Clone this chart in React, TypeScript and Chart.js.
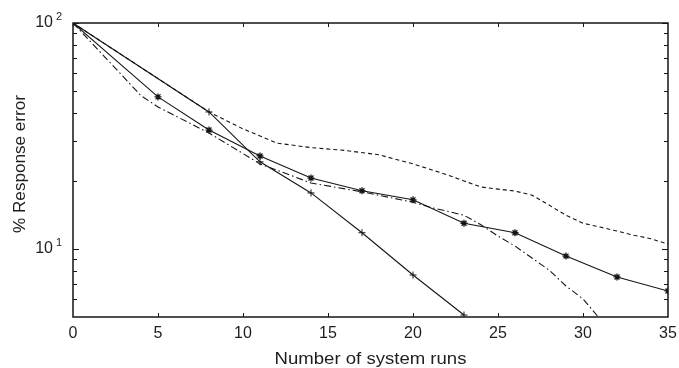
import React, { useEffect, useRef } from "react";
import { Chart, registerables } from "chart.js";

Chart.register(...registerables);

// x positions and values (% response error) for each curve
const slowX = [0, 5, 8, 11, 14, 17, 20, 23, 26, 29, 32, 35];
const slowY = [100, 47.1, 33.6, 25.8, 20.6, 18.1, 16.5, 13.0, 11.8, 9.3, 7.52, 6.52];

const fastX = [0, 8, 11, 14, 17, 20, 23];
const fastY = [100, 40.4, 24.3, 17.7, 11.8, 7.67, 5.1];

const dashX = [0, 8, 10, 12, 14, 16, 18, 20, 22, 23, 24, 25, 26, 27, 28, 29, 30, 31, 32, 33, 34, 35];
const dashY = [100, 40.4, 34.0, 29.4, 28.1, 27.3, 26.1, 23.8, 21.3, 20.0, 18.8, 18.4, 18.05, 17.3, 15.65, 14.1, 13.0, 12.5, 12.0, 11.5, 11.1, 10.5];

const dashDotX = [0, 4, 5, 8, 11, 14, 17, 20, 21, 22, 23, 24, 25, 26, 27, 28, 29, 30, 31];
const dashDotY = [100, 47.7, 42.5, 32.6, 23.8, 19.6, 17.9, 16.1, 15.3, 14.7, 14.1, 12.8, 11.4, 10.3, 9.12, 8.07, 6.86, 6.01, 4.9];

const xTickValues = [0, 5, 10, 15, 20, 25, 30, 35];
const yMajorTicks = [10, 100];
const yMinorTicks = [6, 7, 8, 9, 20, 30, 40, 50, 60, 70, 80, 90];
const yLabelBase = "10";
const yLabelExps = ["1", "2"];

const xTitle = "Number of system runs";
const yTitle = "% Response error";

const FONT = '"Liberation Sans", Arial, Helvetica, sans-serif';
const INK = "#151515";

function pts(xs: number[], ys: number[]) {
  return xs.map((x, i) => ({ x, y: ys[i] }));
}

const framePlugin = {
  id: "matlabFrame",
  afterDraw(chart: any) {
    const ctx = chart.ctx as CanvasRenderingContext2D;
    const { left, right, top, bottom } = chart.chartArea;
    const xs = chart.scales.x;
    const ys = chart.scales.y;
    ctx.save();
    ctx.strokeStyle = INK;
    ctx.lineWidth = 1.5;
    ctx.strokeRect(left, top, right - left, bottom - top);

    ctx.lineWidth = 1;
    ctx.beginPath();
    xTickValues.forEach((v) => {
      if (v === 0 || v === 35) return;
      const px = Math.round(xs.getPixelForValue(v)) + 0.5;
      ctx.moveTo(px, bottom);
      ctx.lineTo(px, bottom - 4);
      ctx.moveTo(px, top);
      ctx.lineTo(px, top + 4);
    });
    yMinorTicks.forEach((v) => {
      const py = Math.round(ys.getPixelForValue(v)) + 0.5;
      ctx.moveTo(left, py);
      ctx.lineTo(left + 4, py);
      ctx.moveTo(right, py);
      ctx.lineTo(right - 4, py);
    });
    yMajorTicks.forEach((v) => {
      const py = Math.round(ys.getPixelForValue(v)) + 0.5;
      ctx.moveTo(left, py);
      ctx.lineTo(left + 6, py);
      ctx.moveTo(right, py);
      ctx.lineTo(right - 6, py);
    });
    ctx.stroke();

    ctx.fillStyle = "#1e1e1e";
    // x tick labels
    ctx.font = `16px ${FONT}`;
    ctx.textAlign = "center";
    ctx.textBaseline = "alphabetic";
    xTickValues.forEach((v) => {
      ctx.fillText(String(v), xs.getPixelForValue(v), bottom + 21);
    });

    // y tick labels 10^1, 10^2
    yMajorTicks.forEach((v, i) => {
      const py = ys.getPixelForValue(v);
      ctx.font = `16px ${FONT}`;
      ctx.textAlign = "right";
      ctx.fillText(yLabelBase, left - 20, py + 4);
      ctx.font = `11px ${FONT}`;
      ctx.textAlign = "left";
      ctx.fillText(yLabelExps[i], left - 17, py - 3);
    });

    // x title
    ctx.font = `16px ${FONT}`;
    ctx.textAlign = "center";
    ctx.save();
    ctx.translate((left + right) / 2, bottom + 47);
    ctx.scale(1.16, 1);
    ctx.fillText(xTitle, 0, 0);
    ctx.restore();

    // y title
    ctx.save();
    ctx.translate(25, 164);
    ctx.rotate(-Math.PI / 2);
    ctx.scale(1.07, 1);
    ctx.fillText(yTitle, 0, 0);
    ctx.restore();

    ctx.restore();
  },
};

export default function App() {
  const ref = useRef<HTMLCanvasElement | null>(null);

  useEffect(() => {
    if (!ref.current) return;
    const common = {
      borderColor: INK,
      backgroundColor: INK,
      borderWidth: 1.1,
      tension: 0,
      fill: false,
    };
    const chart = new Chart(ref.current, {
      type: "line",
      data: {
        datasets: [
          {
            ...common,
            label: "dashed",
            data: pts(dashX, dashY),
            borderDash: [4, 3],
            pointRadius: 0,
          },
          {
            ...common,
            label: "dash-dot",
            data: pts(dashDotX, dashDotY),
            borderDash: [7, 3, 1.5, 3],
            pointRadius: 0,
          },
          {
            ...common,
            label: "fast",
            data: pts(fastX, fastY),
            pointStyle: "cross",
            pointRadius: 3.5,
            pointBorderWidth: 1,
            pointBorderColor: INK,
          },
          {
            ...common,
            label: "slow",
            data: pts(slowX, slowY),
            pointStyle: "star",
            pointRadius: 3.5,
            pointBorderWidth: 1.3,
            pointBorderColor: INK,
          },
        ],
      },
      options: {
        responsive: false,
        animation: false,
        events: [],
        layout: { padding: { top: 23, right: 11, left: 0, bottom: 0 } },
        plugins: { legend: { display: false }, tooltip: { enabled: false } },
        scales: {
          x: {
            type: "linear",
            min: 0,
            max: 35,
            grid: { display: false, drawTicks: false },
            border: { display: false },
            ticks: { display: false },
            afterFit: (s: any) => {
              s.height = 51;
            },
          },
          y: {
            type: "logarithmic",
            min: 5,
            max: 100,
            grid: { display: false, drawTicks: false },
            border: { display: false },
            ticks: { display: false },
            afterFit: (s: any) => {
              s.width = 73;
            },
          },
        },
      },
      plugins: [framePlugin],
    } as any);
    return () => chart.destroy();
  }, []);

  return (
    <div style={{ position: "fixed", left: 0, top: 0, width: 679, height: 368, background: "#fff" }}>
      <canvas ref={ref} width={679} height={368} style={{ display: "block" }} />
    </div>
  );
}
